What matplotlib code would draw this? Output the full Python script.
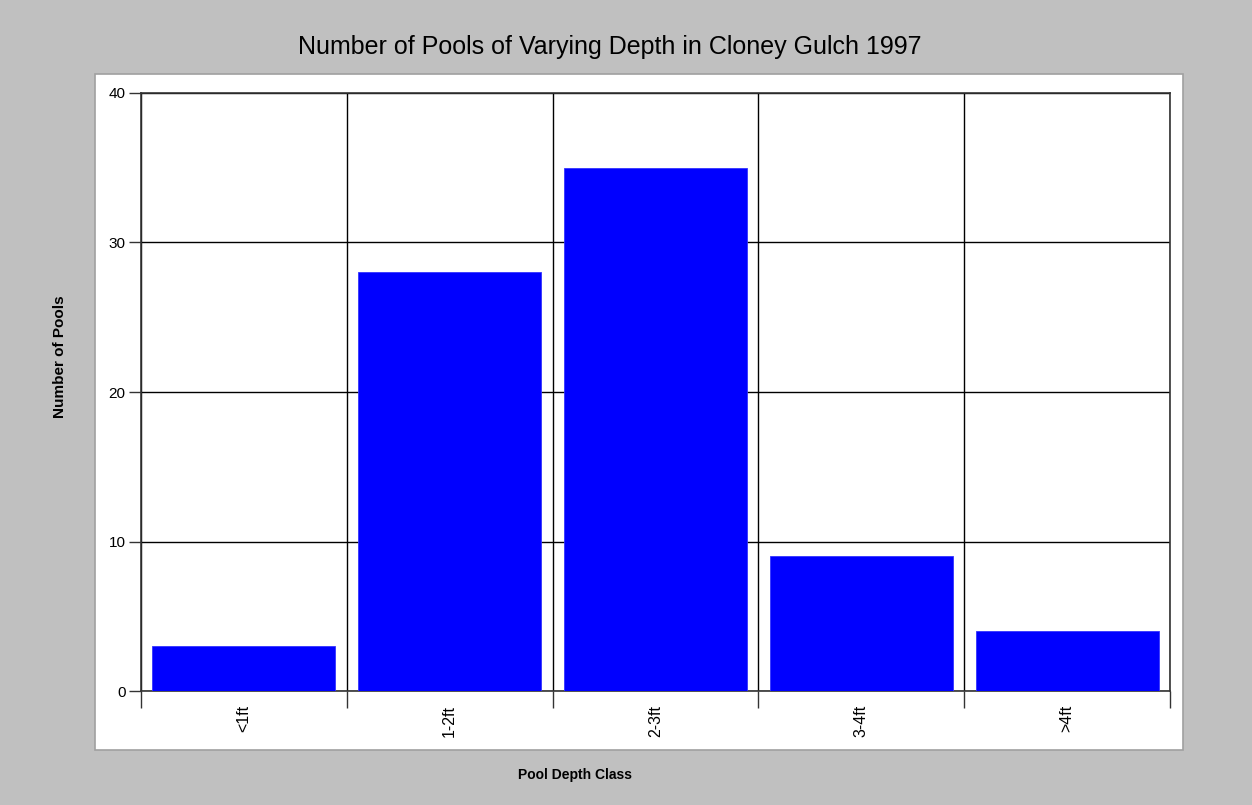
import matplotlib
matplotlib.use("Agg")
import matplotlib.pyplot as plt
from matplotlib.patches import Rectangle
import numpy as np

# data
depth_classes = ['<1ft', '1-2ft', '2-3ft', '3-4ft', '>4ft']
pool_counts = [3, 28, 35, 9, 4]
y_ticks = [0, 10, 20, 30, 40]

plt.rcParams['font.family'] = ['Liberation Sans', 'DejaVu Sans']

W, H = 1252, 805
fig = plt.figure(figsize=(W / 100, H / 100), dpi=100)
fig.patch.set_facecolor('#c0c0c0')

# white panel behind the plot
panel = Rectangle((95 / W, 1 - 750 / H), (1183 - 95) / W, (750 - 74) / H,
                  transform=fig.transFigure, facecolor='white',
                  edgecolor='#a0a0a0', linewidth=1.2, zorder=-10)
fig.patches.append(panel)

ax = fig.add_axes([141 / W, 1 - 691 / H, (1170 - 141) / W, (691 - 93) / H])
ax.set_facecolor('white')

x = np.arange(len(depth_classes))
ax.bar(x, pool_counts, width=0.89, color='#0000ff', edgecolor='#3333ff',
       linewidth=0.6, zorder=3)

ax.set_xlim(-0.5, len(depth_classes) - 0.5)
ax.set_ylim(0, 40)
ax.set_yticks(y_ticks)
ax.set_xticks(x)
ax.set_xticklabels(depth_classes, rotation=90, fontsize=11.5)
ax.set_xticks(np.arange(len(depth_classes) + 1) - 0.5, minor=True)

ax.tick_params(axis='x', which='major', length=0, pad=10)
ax.tick_params(axis='x', which='minor', length=12, width=1, color='#333333')
ax.tick_params(axis='y', length=9, width=1, color='#333333', labelsize=11, pad=2)

ax.grid(which='minor', axis='x', color='black', linewidth=1, zorder=1)
ax.grid(which='major', axis='y', color='black', linewidth=1, zorder=1)

for s in ax.spines.values():
    s.set_color('#333333')
    s.set_linewidth(1.2)

fig.text(610 / W, 1 - 47 / H, 'Number of Pools of Varying Depth in Cloney Gulch 1997',
         ha='center', va='center', fontsize=18)
fig.text(60 / W, 1 - 357 / H, 'Number of Pools', rotation=90, ha='center',
         va='center', fontsize=11, fontweight='bold')
fig.text(575 / W, 1 - 775 / H, 'Pool Depth Class', ha='center', va='center',
         fontsize=10, fontweight='bold')

fig.savefig('out.png', dpi=100, facecolor=fig.get_facecolor())
